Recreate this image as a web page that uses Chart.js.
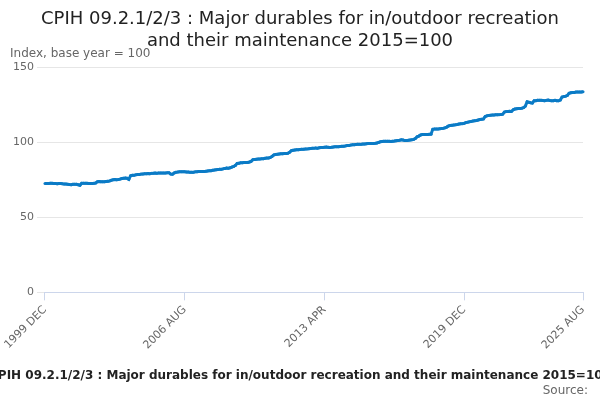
<!DOCTYPE html><html><head><script src="https://cdn.jsdelivr.net/npm/chart.js@4"></script>
<style>body{margin:0;background:#fff}#w{width:600px;height:400px}</style></head><body><div id="w"><canvas id="c"></canvas></div>
<script>
const MONTHS=["JAN","FEB","MAR","APR","MAY","JUN","JUL","AUG","SEP","OCT","NOV","DEC"];
const v1999=[72.5];
const v2000=[72.5,72.5,72.6,72.6,72.5,72.4,72.3,72.4,72.5,72.3,72.2,72.1];
const v2001=[72.0,71.8,71.7,71.9,72.0,71.9,71.6,71.3,72.6,72.7,72.7,72.6];
const v2002=[72.5,72.4,72.5,72.6,72.8,73.6,73.8,73.7,73.7,73.6,73.8,74.0];
const v2003=[74.2,74.6,75.0,75.1,75.0,75.1,75.4,75.8,76.0,76.1,76.0,75.2];
const v2004=[77.6,77.9,78.0,78.2,78.4,78.5,78.7,78.8,78.9,79.0,79.1,79.0];
const v2005=[79.2,79.3,79.4,79.3,79.4,79.5,79.5,79.4,79.5,79.6,79.6,78.7];
const v2006=[78.6,79.5,80.0,80.1,80.3,80.3,80.2,80.2,80.1,80.1,80.0,79.9];
const v2007=[80.0,80.2,80.3,80.4,80.4,80.5,80.5,80.6,80.8,80.9,81.0,81.3];
const v2008=[81.5,81.6,81.7,81.9,82.0,82.2,82.5,82.7,82.6,82.9,83.4,83.8];
const v2009=[84.5,85.8,86.0,86.2,86.3,86.4,86.5,86.5,86.8,87.2,88.3,88.5];
const v2010=[88.6,88.7,88.8,88.9,89.0,89.2,89.4,89.5,89.8,90.5,91.5,91.8];
const v2011=[92.0,92.1,92.2,92.3,92.4,92.5,92.6,93.2,94.3,94.6,94.8,94.9];
const v2012=[95.0,95.1,95.2,95.3,95.4,95.5,95.6,95.8,95.9,96.0,96.1,96.0];
const v2013=[96.2,96.4,96.5,96.6,96.7,96.6,96.5,96.6,96.8,96.9,97.0,97.0];
const v2014=[97.1,97.2,97.3,97.5,97.7,97.8,98.0,98.2,98.3,98.4,98.5,98.5];
const v2015=[98.6,98.7,98.8,98.9,99.0,99.0,99.0,99.1,99.2,99.4,99.8,100.2];
const v2016=[100.4,100.5,100.6,100.6,100.5,100.4,100.6,100.7,100.9,101.0,101.2,101.5];
const v2017=[101.4,101.0,101.0,101.2,101.4,101.5,101.8,102.4,103.5,104.0,104.8,105.0];
const v2018=[105.0,105.0,105.1,105.2,105.3,108.5,108.7,108.8,108.8,108.9,109.0,109.2];
const v2019=[109.5,110.0,110.8,111.0,111.2,111.4,111.5,111.7,112.0,112.2,112.3,112.6];
const v2020=[113.0,113.3,113.5,113.8,114.0,114.2,114.4,114.7,115.0,115.2,115.4,117.0];
const v2021=[117.5,117.8,117.9,118.0,118.1,118.2,118.2,118.3,118.4,118.6,120.0,120.3];
const v2022=[120.4,120.5,120.4,121.5,122.0,122.2,122.3,122.4,122.6,123.0,124.0,126.8];
const v2023=[126.5,126.2,126.0,127.5,127.6,127.8,127.9,127.8,127.7,127.5,127.8,128.0];
const v2024=[127.7,127.6,127.5,127.8,127.6,127.5,128.0,130.0,130.3,130.6,131.0,132.5];
const v2025=[132.8,133.0,133.1,133.3,133.4,133.3,133.4,133.5];
const values=[].concat(v1999,v2000,v2001,v2002,v2003,v2004,v2005,v2006,v2007,v2008,v2009,v2010,v2011,v2012,v2013,v2014,v2015,v2016,v2017,v2018,v2019,v2020,v2021,v2022,v2023,v2024,v2025);
const labels=values.map((_,i)=>{const m=11+i;return (1999+Math.floor(m/12))+" "+MONTHS[m%12];});
const shownTicks=["1999 DEC","2006 AUG","2013 APR","2019 DEC","2025 AUG"];
const yTicks=[0,50,100,150];
const textPlugin={id:'t',afterDraw(ch){const x=ch.ctx;x.save();
x.fillStyle='#222';x.font='18px "DejaVu Sans"';x.textAlign='center';x.textBaseline='alphabetic';
x.fillText('CPIH 09.2.1/2/3 : Major durables for in/outdoor recreation',300,24);
x.fillText('and their maintenance 2015=100',300,46);
x.fillStyle='#666';x.font='12px "DejaVu Sans"';x.textAlign='left';x.fillText('Index, base year = 100',10,57);
x.fillStyle='#222';x.font='bold 12px "DejaVu Sans"';x.textAlign='center';
x.fillText('CPIH 09.2.1/2/3 : Major durables for in/outdoor recreation and their maintenance 2015=100',300,379);
x.fillStyle='#666';x.font='12px "DejaVu Sans"';x.textAlign='right';x.fillText('Source:',588,394);
x.restore();}};
new Chart(document.getElementById('c'),{type:'line',data:{labels,datasets:[{data:values,borderColor:'#0b7bc6',backgroundColor:'#0b7bc6',borderWidth:3,pointRadius:1.5,pointBorderWidth:0,tension:0}]},
options:{responsive:true,maintainAspectRatio:false,animation:false,layout:{padding:{top:67,right:17,bottom:45,left:10}},
plugins:{legend:{display:false},tooltip:{enabled:false}},
scales:{x:{grid:{display:true,drawOnChartArea:false,color:'#ccd6eb',tickLength:8},border:{color:'#ccd6eb'},
ticks:{autoSkip:false,maxRotation:45,minRotation:45,color:'#666',font:{size:11,family:'DejaVu Sans'},callback:function(v,i){const l=labels[i];return shownTicks.includes(l)?l:null;}}},
y:{min:0,max:150,afterBuildTicks:a=>{a.ticks=yTicks.map(v=>({value:v}));},grid:{color:'#e6e6e6'},border:{display:false},ticks:{color:'#666',font:{size:11,family:'DejaVu Sans'}}}}},plugins:[textPlugin]});
</script></body></html>
